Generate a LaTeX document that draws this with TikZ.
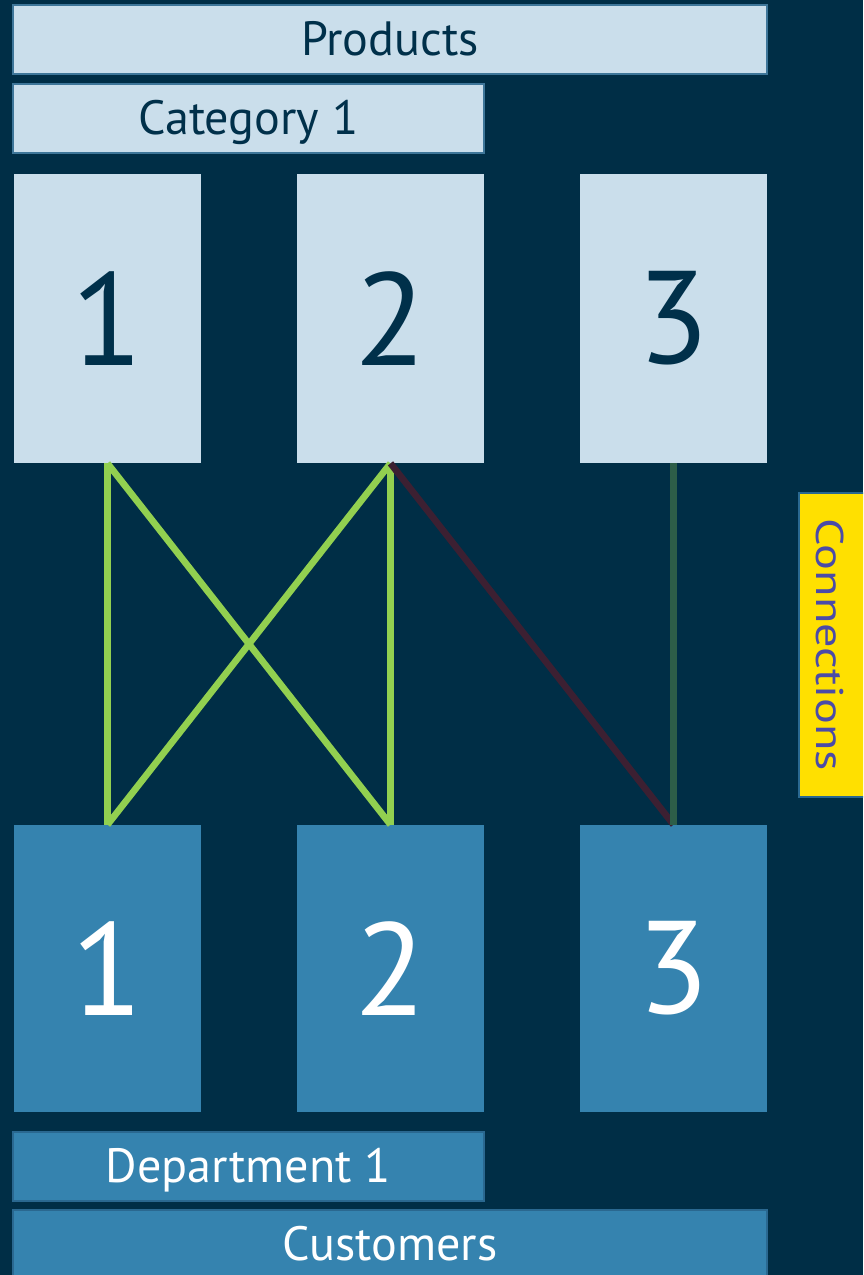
\documentclass[tikz,border=0pt]{standalone}
\usepackage{fontspec}
\setmainfont{PT Sans}
\usepackage{xcolor}
\definecolor{navy}{HTML}{002E46}
\definecolor{pale}{HTML}{CADEEB}
\definecolor{paleline}{HTML}{3E7699}
\definecolor{mid}{HTML}{3583AF}
\definecolor{midline}{HTML}{2A6890}
\definecolor{ink}{HTML}{00304A}
\definecolor{lime}{HTML}{92D050}
\definecolor{wine}{HTML}{3C2032}
\definecolor{moss}{HTML}{2D5E48}
\definecolor{gold}{HTML}{FFE000}
\definecolor{violet}{HTML}{4B4BA8}

\begin{document}
\begin{tikzpicture}[x=0.02cm,y=-0.02cm,
  band/.style={draw=paleline,line width=1pt,fill=pale,text=ink,inner sep=0pt,minimum height=1.38cm,
    text height=18.1pt,text depth=0pt,font=\fontsize{27.4}{30}\selectfont},
  cband/.style={band,draw=midline,fill=mid,text=white},
  topbox/.style={fill=pale,text=ink,inner sep=0pt,minimum width=3.74cm,minimum height=5.78cm,font=\fontsize{75}{80}\selectfont},
  botbox/.style={topbox,fill=mid,text=white,minimum height=5.74cm},
  link/.style={line width=3.8pt}]
\useasboundingbox (0,0) rectangle (863,1275);
\clip (0,0) rectangle (863,1275);
\fill[navy] (0,0) rectangle (863,1275);
\node[band,minimum width=15.08cm] (prod) at (390,39.5) {Products};
\node[band,minimum width=9.42cm] (cat) at (248.5,118.5) {Category 1};
\node[topbox] (t1) at (107.5,318.5) {1};
\node[topbox] (t2) at (390.5,318.5) {2};
\node[topbox] (t3) at (673.5,318.5) {3};
\node[botbox] (b1) at (107.5,968.5) {1};
\node[botbox] (b2) at (390.5,968.5) {2};
\node[botbox] (b3) at (673.5,968.5) {3};
\node[cband,minimum width=9.42cm] (dep) at (248.5,1166.5) {Department 1};
\node[cband,minimum width=15.08cm] (cust) at (390,1244.5) {Customers};
\node[draw=midline,line width=1pt,fill=gold,text=violet,inner sep=0pt,
  minimum width=6.08cm,minimum height=1.4cm,rotate=-90,text height=20.4pt,text depth=0pt,
  font=\fontsize{22}{26}\selectfont] (conn) at (834,645) {\scalebox{1.25}[1]{Connections}};
\draw[link,lime] (t1.south) -- (b1.north);
\draw[link,lime] (t1.south) -- (b2.north);
\draw[link,lime] (t2.south) -- (b1.north);
\draw[link,lime] (t2.south) -- (b2.north);
\draw[link,wine] (t2.south) -- (b3.north);
\draw[link,moss] (t3.south) -- (b3.north);
\end{tikzpicture}
\end{document}
